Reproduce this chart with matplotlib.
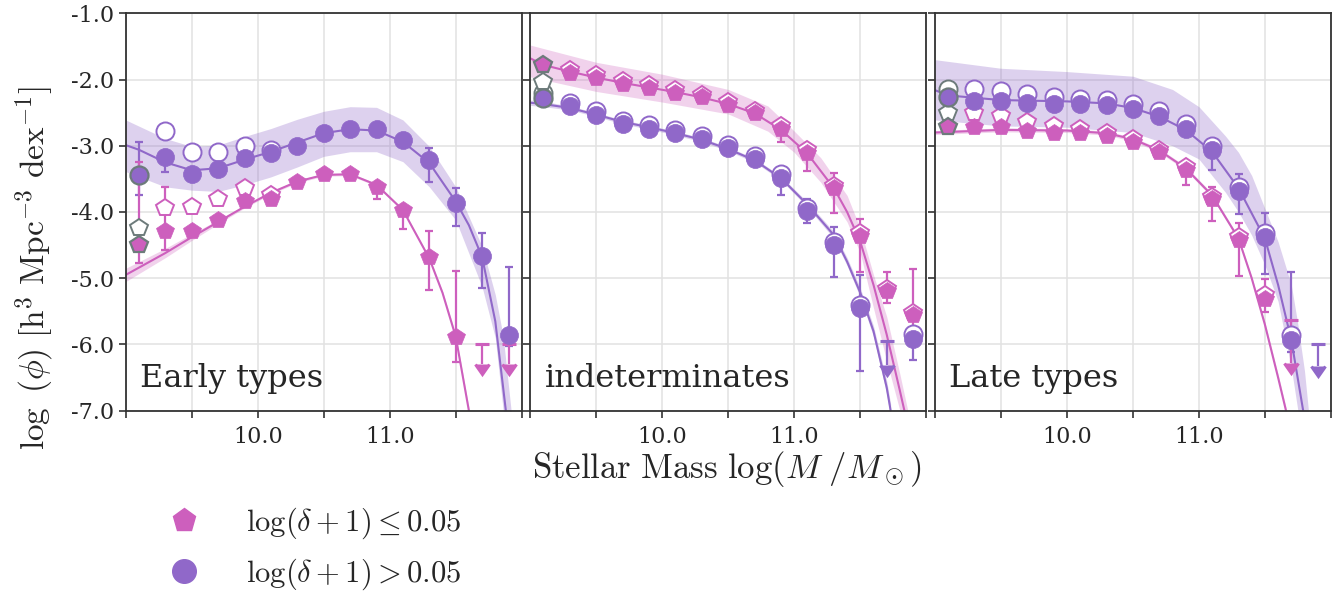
import numpy as np
import matplotlib
matplotlib.use('Agg')
import matplotlib.pyplot as plt
from matplotlib.lines import Line2D
from matplotlib.ticker import FormatStrFormatter

# ---- data ----
mass = [9.1, 9.3, 9.5, 9.7, 9.9, 10.1, 10.3, 10.5, 10.7, 10.9, 11.1, 11.3, 11.5, 11.7, 11.9]
nan = np.nan

# Early types
early_lo = [-4.50, -4.28, -4.29, -4.12, -3.83, -3.80, -3.54, -3.42, -3.43, -3.62, -3.97, -4.68, -5.89, nan, nan]
early_lo_elo = [0.27, 0.29, 0, 0, 0, 0, 0, 0, 0, 0.19, 0.28, 0.50, 0.37, 0, 0]
early_lo_ehi = [1.26, 0.65, 0, 0, 0, 0, 0, 0, 0, 0.03, 0.03, 0.40, 1.00, 0, 0]
early_lo_open = [-4.24, -3.94, -3.92, -3.81, -3.64, -3.74, nan, nan, nan, nan, nan, nan, nan, nan, nan]
early_hi = [-3.44, -3.17, -3.42, -3.35, -3.19, -3.11, -3.01, -2.81, -2.75, -2.74, -2.91, -3.21, -3.86, -4.66, -5.85]
early_hi_elo = [0.30, 0.22, 0, 0, 0, 0, 0, 0, 0, 0, 0.03, 0.33, 0.35, 0.49, 0.18]
early_hi_ehi = [0.50, 0.03, 0, 0, 0, 0, 0, 0, 0, 0, 0.03, 0.17, 0.22, 0.35, 1.02]
early_hi_open = [nan, -2.78, -3.10, -3.09, -3.01, -3.06, nan, nan, nan, nan, nan, nan, nan, nan, nan]
early_lo_limx = [11.7, 11.9]
early_lo_lim = [-6.0, -6.0]
early_lo_limlen = [0.3, 0.3]
early_hi_limx = []
early_hi_lim = []
early_hi_limlen = []

early_hi_fitx = [9.0, 9.1, 9.3, 9.5, 9.7, 9.9, 10.1, 10.3, 10.5, 10.7, 10.9, 11.1, 11.3, 11.5, 11.6, 11.7, 11.8, 11.88]
early_hi_fit = [-2.99, -3.06, -3.25, -3.37, -3.34, -3.21, -3.09, -2.95, -2.81, -2.75, -2.77, -2.94, -3.26, -3.84, -4.20, -4.68, -5.65, -7.0]
early_hi_bandx = [9.0, 9.3, 9.5, 9.7, 9.9, 10.1, 10.3, 10.5, 10.7, 10.9, 11.1, 11.3, 11.5, 11.7, 11.8, 11.86, 11.92]
early_hi_bandup = [-2.61, -2.89, -3.01, -2.99, -2.86, -2.74, -2.60, -2.48, -2.41, -2.42, -2.61, -3.01, -3.62, -4.52, -5.25, -5.88, -7.0]
early_hi_banddn = [-3.39, -3.62, -3.67, -3.69, -3.59, -3.47, -3.32, -3.16, -3.09, -3.09, -3.24, -3.62, -4.12, -5.13, -5.90, -7.0, -8.2]
early_lo_fitx = [9.0, 9.3, 9.5, 9.7, 9.9, 10.1, 10.3, 10.5, 10.7, 10.9, 11.1, 11.3, 11.4, 11.5, 11.6]
early_lo_fit = [-4.95, -4.62, -4.38, -4.15, -3.92, -3.71, -3.54, -3.44, -3.43, -3.59, -3.97, -4.70, -5.22, -5.88, -7.0]
early_lo_bandw = [0.10, 0.07, 0.05, 0.03, 0.02, 0.02, 0.02, 0.02, 0.02, 0.02, 0.02, 0.02, 0.03, 0.04, 0.05]

# Indeterminates
indet_lo = [-1.78, -1.90, -1.97, -2.06, -2.13, -2.20, -2.27, -2.38, -2.51, -2.74, -3.11, -3.64, -4.36, -5.20, -5.56]
indet_lo_elo = [0, 0, 0, 0, 0, 0, 0, 0, 0, 0.21, 0.27, 0.38, 0.54, 0.18, 0.22]
indet_lo_ehi = [0, 0, 0, 0, 0, 0, 0, 0, 0, 0.03, 0.03, 0.23, 0.26, 0.30, 0.70]
indet_lo_open = [-2.03, -1.86, -1.93, -2.02, -2.09, -2.16, -2.23, -2.34, -2.47, -2.70, -3.07, -3.60, -4.32, -5.16, -5.52]
indet_hi = [-2.28, -2.40, -2.53, -2.67, -2.74, -2.81, -2.90, -3.04, -3.20, -3.48, -3.99, -4.50, -5.45, nan, -5.91]
indet_hi_elo = [0, 0, 0, 0, 0, 0, 0, 0, 0, 0.26, 0.18, 0.48, 0.95, 0, 0.33]
indet_hi_ehi = [0, 0, 0, 0, 0, 0, 0, 0, 0, 0.03, 0.18, 0.28, 0.50, 0, 0.10]
indet_hi_open = [-2.20, -2.35, -2.48, -2.62, -2.69, -2.76, -2.85, -2.99, -3.15, -3.43, -3.94, -4.45, -5.40, nan, -5.84]
indet_lo_limx = []
indet_lo_lim = []
indet_lo_limlen = []
indet_hi_limx = [11.7]
indet_hi_lim = [-5.95]
indet_hi_limlen = [0.36]

indet_lo_fitx = [9.0, 9.1, 9.3, 9.5, 9.7, 9.9, 10.1, 10.3, 10.5, 10.7, 10.9, 11.1, 11.3, 11.4, 11.5, 11.6, 11.7, 11.8, 11.84]
indet_lo_fit = [-1.68, -1.78, -1.88, -1.97, -2.05, -2.12, -2.19, -2.27, -2.37, -2.51, -2.76, -3.12, -3.64, -4.00, -4.45, -5.10, -5.85, -6.70, -7.05]
indet_lo_bandx = [9.0, 9.5, 10.0, 10.5, 10.8, 11.0, 11.2, 11.4, 11.5, 11.6, 11.7, 11.8, 11.86]
indet_lo_bandup = [-1.48, -1.74, -1.92, -2.15, -2.40, -2.78, -3.18, -3.75, -4.25, -4.95, -5.58, -6.45, -7.0]
indet_lo_banddn = [-1.96, -2.18, -2.34, -2.52, -2.78, -3.10, -3.55, -4.15, -4.62, -5.45, -6.25, -7.0, -7.6]
indet_hi_fitx = [9.0, 9.1, 9.3, 9.5, 9.7, 9.9, 10.1, 10.3, 10.5, 10.7, 10.9, 11.1, 11.3, 11.4, 11.5, 11.6, 11.7, 11.73]
indet_hi_fit = [-2.35, -2.37, -2.43, -2.53, -2.64, -2.72, -2.81, -2.91, -3.05, -3.22, -3.49, -3.89, -4.35, -4.75, -5.22, -5.80, -6.65, -7.0]
indet_hi_bandw = [0.04, 0.04, 0.03, 0.03, 0.03, 0.03, 0.03, 0.03, 0.03, 0.03, 0.03, 0.04, 0.05, 0.06, 0.07, 0.08, 0.10, 0.10]

# Late types
late_lo = [-2.72, -2.71, -2.72, -2.77, -2.81, -2.81, -2.85, -2.94, -3.10, -3.36, -3.81, -4.42, -5.31, nan, nan]
late_lo_elo = [0, 0, 0, 0, 0, 0, 0, 0, 0, 0.23, 0.32, 0.55, 0.20, 0, 0]
late_lo_ehi = [0, 0, 0, 0, 0, 0, 0, 0, 0, 0.03, 0.18, 0.25, 0.30, 0, 0]
late_lo_open = [-2.51, -2.50, -2.55, -2.64, -2.70, -2.74, -2.81, -2.90, -3.06, -3.32, -3.77, -4.38, -5.26, nan, nan]
late_hi = [-2.27, -2.32, -2.33, -2.36, -2.37, -2.37, -2.38, -2.45, -2.55, -2.74, -3.07, -3.68, -4.38, -5.93, nan]
late_hi_elo = [0, 0, 0, 0, 0, 0, 0, 0, 0, 0, 0.30, 0.35, 0.55, 0.19, 0]
late_hi_ehi = [0, 0, 0, 0, 0, 0, 0, 0, 0, 0, 0.03, 0.26, 0.36, 1.03, 0]
late_hi_open = [-2.15, -2.15, -2.17, -2.22, -2.27, -2.30, -2.31, -2.37, -2.48, -2.67, -3.01, -3.62, -4.32, -5.86, nan]
late_lo_limx = [11.7]
late_lo_lim = [-5.63]
late_lo_limlen = [0.65]
late_hi_limx = [11.9]
late_hi_lim = [-6.0]
late_hi_limlen = [0.33]

late_hi_fitx = [9.0, 9.1, 9.5, 10.0, 10.3, 10.5, 10.7, 10.9, 11.1, 11.3, 11.5, 11.6, 11.7, 11.79]
late_hi_fit = [-2.16, -2.24, -2.31, -2.33, -2.36, -2.43, -2.56, -2.76, -3.09, -3.64, -4.40, -5.10, -5.93, -7.0]
late_hi_bandx = [9.0, 9.5, 10.0, 10.5, 10.8, 11.0, 11.2, 11.3, 11.4, 11.5, 11.6, 11.7, 11.75, 11.8, 11.83]
late_hi_bandup = [-1.70, -1.83, -1.88, -1.95, -2.15, -2.41, -2.85, -3.10, -3.45, -3.95, -4.45, -5.10, -5.70, -6.40, -7.0]
late_hi_banddn = [-2.61, -2.70, -2.72, -2.80, -3.00, -3.20, -3.70, -4.00, -4.35, -4.80, -5.35, -6.35, -7.0, -7.5, -7.9]
late_lo_fitx = [9.0, 9.5, 10.0, 10.3, 10.5, 10.7, 10.9, 11.1, 11.3, 11.4, 11.5, 11.6, 11.66]
late_lo_fit = [-2.80, -2.76, -2.77, -2.81, -2.90, -3.07, -3.34, -3.75, -4.40, -5.00, -5.70, -6.50, -7.0]
late_lo_bandw = [0.03, 0.03, 0.03, 0.03, 0.03, 0.03, 0.03, 0.03, 0.03, 0.03, 0.04, 0.05, 0.05]

panel_names = ['Early types', 'indeterminates', 'Late types']
xtick_pos = [9.0, 9.5, 10.0, 10.5, 11.0, 11.5, 12.0]
xtick_lab = ['', '', '10.0', '', '11.0', '', '']
ytick_pos = [-7, -6, -5, -4, -3, -2, -1]

# ---- style ----
pink = '#cd5fbd'
purple = '#9068c9'
gray_edge = '#6d7b7b'
text_color = '#262626'
spine_color = '#333333'
grid_color = '#e2e2e2'
msize = 13

plt.rcParams['font.family'] = ['DejaVu Serif']
plt.rcParams['mathtext.fontset'] = 'cm'
plt.rcParams['axes.unicode_minus'] = False


def draw_errors(ax, y, elo, ehi, color):
    x = np.array(mass)
    y = np.array(y)
    elo = np.array(elo)
    ehi = np.array(ehi)
    m = (elo + ehi) > 0
    ax.errorbar(x[m], y[m], yerr=[elo[m], ehi[m]], fmt='none', ecolor=color,
                elinewidth=1.6, capsize=3, capthick=1.6, zorder=3)


def draw_limits(ax, limx, lim, limlen, color):
    if len(limx) == 0:
        return
    ax.errorbar(limx, lim, yerr=limlen, uplims=True, fmt='_', color=color,
                ms=9, mew=2.2, elinewidth=1.6, capsize=5, capthick=1.6, zorder=3)


def draw_points(ax, y, y_open, color, marker):
    x = np.array(mass)
    y = np.array(y)
    y_open = np.array(y_open)
    # open sample behind
    ax.plot(x[1:], y_open[1:], ls='none', marker=marker, ms=msize, mfc='white',
            mec=color, mew=1.4, zorder=4)
    ax.plot(x[:1], y_open[:1], ls='none', marker=marker, ms=msize, mfc='white',
            mec=gray_edge, mew=1.4, zorder=4)
    # filled sample on top
    ax.plot(x[1:], y[1:], ls='none', marker=marker, ms=msize, mfc=color,
            mec=color, mew=0.5, zorder=5)
    ax.plot(x[:1], y[:1], ls='none', marker=marker, ms=msize, mfc=color,
            mec=gray_edge, mew=1.6, zorder=5)


def draw_band(ax, fx, fy, band, color, alpha):
    if len(band) == 3:
        ax.fill_between(band[0], band[1], band[2], color=color, alpha=alpha, lw=0, zorder=1)
    else:
        fyarr = np.array(fy)
        hw = np.array(band[0])
        ax.fill_between(fx, fyarr + hw, fyarr - hw, color=color, alpha=alpha, lw=0, zorder=1)


def draw_panel(ax, name, lo, lo_elo, lo_ehi, lo_open, hi, hi_elo, hi_ehi, hi_open,
               lo_lim, hi_lim, lo_fit, hi_fit):
    # fits and bands
    ax.plot(hi_fit[0], hi_fit[1], color=purple, lw=1.5, zorder=2)
    draw_band(ax, *hi_fit, purple, 0.3)
    ax.plot(lo_fit[0], lo_fit[1], color=pink, lw=1.5, zorder=2)
    draw_band(ax, *lo_fit, pink, 0.28)

    draw_errors(ax, hi, hi_elo, hi_ehi, purple)
    draw_errors(ax, lo, lo_elo, lo_ehi, pink)
    draw_limits(ax, *hi_lim, purple)
    draw_limits(ax, *lo_lim, pink)
    draw_points(ax, hi, hi_open, purple, 'o')
    draw_points(ax, lo, lo_open, pink, 'p')

    ax.set_xlim(9.0, 12.0)
    ax.set_ylim(-7.0, -1.0)
    ax.set_xticks(xtick_pos)
    ax.set_xticklabels(xtick_lab)
    ax.set_yticks(ytick_pos)
    ax.yaxis.set_major_formatter(FormatStrFormatter('%.1f'))
    ax.grid(True, color=grid_color, lw=1.1)
    ax.set_axisbelow(True)
    for s in ax.spines.values():
        s.set_color(spine_color)
        s.set_linewidth(1.3)
    ax.tick_params(direction='out', length=5, width=1.2, color=spine_color,
                   labelsize=16, labelcolor=text_color, top=False, right=False)
    ax.tick_params(axis='x', pad=6)
    ax.text(0.036, 0.06, name, transform=ax.transAxes, fontsize=23,
            color=text_color, ha='left', va='baseline')


fig = plt.figure(figsize=(13.44, 5.96), dpi=100)
left, width, gap = 125.7 / 1344, 396 / 1344, 8.6 / 1344
bottom, height = 1 - 410.7 / 596, (410.7 - 13.3) / 596
axes = [fig.add_axes([left + i * (width + gap), bottom, width, height]) for i in range(3)]

draw_panel(axes[0], panel_names[0], early_lo, early_lo_elo, early_lo_ehi, early_lo_open,
           early_hi, early_hi_elo, early_hi_ehi, early_hi_open,
           (early_lo_limx, early_lo_lim, early_lo_limlen),
           (early_hi_limx, early_hi_lim, early_hi_limlen),
           (early_lo_fitx, early_lo_fit, [early_lo_bandw]),
           (early_hi_fitx, early_hi_fit, [early_hi_bandx, early_hi_bandup, early_hi_banddn]))
draw_panel(axes[1], panel_names[1], indet_lo, indet_lo_elo, indet_lo_ehi, indet_lo_open,
           indet_hi, indet_hi_elo, indet_hi_ehi, indet_hi_open,
           (indet_lo_limx, indet_lo_lim, indet_lo_limlen),
           (indet_hi_limx, indet_hi_lim, indet_hi_limlen),
           (indet_lo_fitx, indet_lo_fit, [indet_lo_bandx, indet_lo_bandup, indet_lo_banddn]),
           (indet_hi_fitx, indet_hi_fit, [indet_hi_bandw]))
draw_panel(axes[2], panel_names[2], late_lo, late_lo_elo, late_lo_ehi, late_lo_open,
           late_hi, late_hi_elo, late_hi_ehi, late_hi_open,
           (late_lo_limx, late_lo_lim, late_lo_limlen),
           (late_hi_limx, late_hi_lim, late_hi_limlen),
           (late_lo_fitx, late_lo_fit, [late_lo_bandw]),
           (late_hi_fitx, late_hi_fit, [late_hi_bandx, late_hi_bandup, late_hi_banddn]))

for ax in axes[1:]:
    ax.tick_params(labelleft=False)

# axis labels
fig.text(0.026, 1 - 268 / 596, r'$\log\ (\phi)\ [\mathrm{h}^3\ \mathrm{Mpc}^{-3}\ \mathrm{dex}^{-1}]$',
         rotation=90, ha='center', va='center', fontsize=24, color=text_color)
fig.text(727 / 1344, 1 - 469 / 596, r'$\mathrm{Stellar\ Mass}\ \log(M\ /M_\odot)$',
         ha='center', va='center', fontsize=25, color=text_color)

# legend
handles = [Line2D([], [], ls='none', marker='p', ms=17, mfc=pink, mec=pink),
           Line2D([], [], ls='none', marker='o', ms=17, mfc=purple, mec=purple)]
labels = [r'$\log(\delta+1)$$\leq$$0.05$', r'$\log(\delta+1)$$>$$0.05$']
fig.legend(handles, labels, loc='center left', bbox_to_anchor=(0.094, 1 - 549 / 596),
           frameon=False, fontsize=22, handletextpad=1.0, labelspacing=0.5,
           labelcolor=text_color)

fig.savefig('out.png', dpi=100)
